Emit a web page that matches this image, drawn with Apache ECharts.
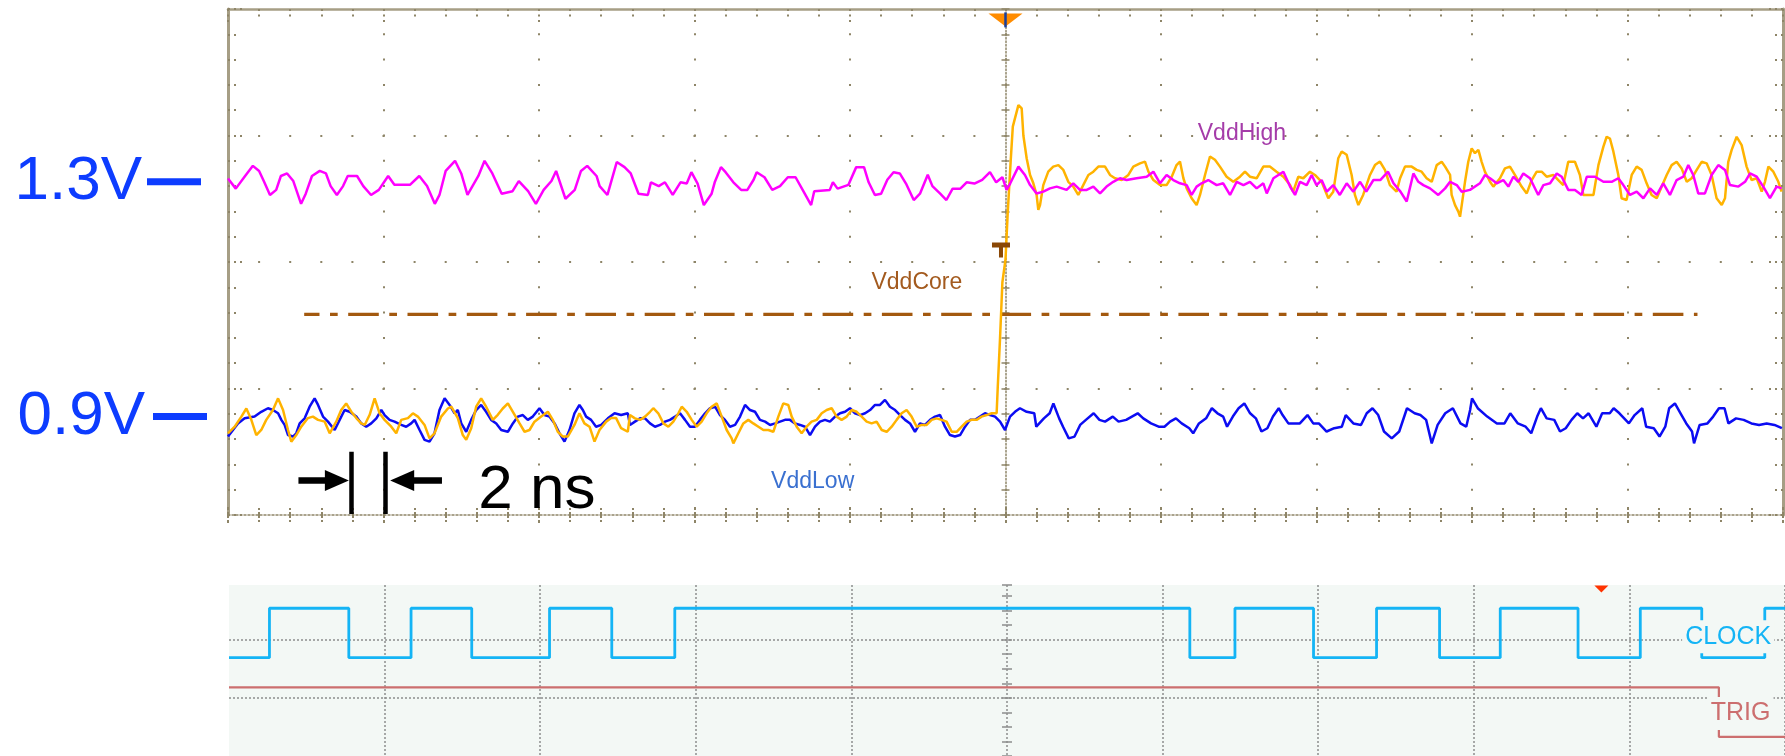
<!DOCTYPE html>
<html>
<head>
<meta charset="utf-8">
<script src="https://cdn.jsdelivr.net/npm/echarts@6/dist/echarts.min.js"></script>
<style>
html,body{margin:0;padding:0;background:#fff;}
#c{width:1785px;height:756px;}
</style>
</head>
<body>
<div id="c"></div>
<script>
// ---------- DATA (time in ns, amplitude in screen minor divisions) ----------
const vddHigh = [
[-50,3.3],[-49.5,2.9],[-48.9,3.4],[-48.4,3.8],[-48,3.6],[-47.7,3.2],[-47.3,2.65],[-46.9,2.85],[-46.6,3.4],[-46.2,3.5],[-45.8,3.2],[-45.3,2.3],[-45,2.7],[-44.6,3.4],[-44.1,3.6],[-43.7,3.5],[-43.4,3.0],[-43,2.65],[-42.6,3.0],[-42.3,3.4],[-41.7,3.4],[-41.3,3.0],[-40.8,2.65],[-40.3,2.85],[-39.7,3.4],[-39.3,3.05],[-38.3,3.05],[-37.7,3.4],[-37.2,3.0],[-36.7,2.3],[-36.4,2.65],[-36,3.6],[-35.4,4.0],[-35,3.5],[-34.6,2.65],[-33.9,3.4],[-33.5,4.0],[-33,3.5],[-32.4,2.7],[-31.7,2.8],[-31.3,3.2],[-30.7,2.8],[-30.2,2.3],[-29.7,2.85],[-29.2,3.2],[-28.9,3.6],[-28.3,2.5],[-27.7,2.85],[-27.3,3.6],[-26.9,3.8],[-26.3,3.4],[-26.1,3.0],
[-25.6,2.65],[-25.0,3.95],[-24.5,3.75],[-24.1,3.5],[-23.6,2.7],[-23.0,2.65],[-22.8,3.15],[-22.3,3.0],[-21.9,3.15],[-21.4,2.65],[-20.9,3.15],[-20.5,3.1],[-20.2,3.55],[-19.8,3.1],[-19.4,2.25],[-18.9,2.7],[-18.7,3.15],[-18.3,3.75],[-18.0,3.55],[-17.5,3.15],[-17.0,2.85],[-16.6,2.85],[-16.2,3.25],[-16.0,3.55],[-15.5,3.35],[-15.0,2.85],[-14.5,3.0],[-14.0,3.35],[-13.5,3.35],[-13.0,2.8],[-12.5,2.25],[-12.3,2.8],[-11.3,2.85],[-11.1,3.15],[-10.8,2.9],[-10.1,3.05],[-9.6,3.75],[-9.1,3.75],[-8.8,3.15],[-8.4,2.65],[-8.0,2.7],[-7.6,3.25],[-7.2,3.55],[-6.8,3.5],[-6.4,3.1],[-5.9,2.45],[-5.5,2.7],[-5.0,3.45],[-4.7,3.0],[-4.2,2.7],[-3.8,2.45],[-3.4,2.9],[-2.9,2.9],[-2.5,3.15],[-2.0,3.1],[-1.5,3.25],[-1.0,3.55],[-0.6,3.15],[-0.2,3.35],
[0.07,2.85],[0.3,3.1],[0.83,3.77],[1.25,3.44],[1.58,3.04],[2.0,2.71],[2.43,2.78],[2.86,2.91],[3.29,2.98],[3.93,2.85],[4.36,3.11],[4.79,2.85],[5.22,2.85],[5.65,2.98],[6.08,2.71],[6.5,2.98],[6.93,3.17],[7.36,3.31],[7.79,3.24],[8.43,3.31],[9.08,3.37],[9.51,3.57],[9.94,3.11],[10.36,3.44],[10.79,3.24],[11.22,3.11],[11.65,3.04],[11.97,2.65],[12.29,2.98],[12.61,3.11],[13.04,3.24],[13.58,3.04],[14.0,3.11],[14.44,2.65],[14.87,3.17],[15.3,3.04],[15.72,3.17],[16.15,2.91],[16.58,3.11],[16.8,2.71],[17.23,3.31],[17.87,3.57],[18.3,2.98],[18.62,2.65],[18.94,3.17],[19.37,3.04],[19.69,3.44],[20.0,3.04],[20.33,3.24],[20.66,2.78],[21.08,3.04],[21.5,2.65],[21.94,3.11],[22.37,2.78],[22.8,3.17],[23.2,2.78],[23.66,3.24],[24.1,3.24],[24.6,3.57],[24.95,3.11],[25.4,2.78],
[25.8,2.39],[26.23,3.5],[26.55,3.17],[26.87,3.04],[27.3,2.91],[27.83,2.65],[28.27,2.91],[28.59,3.17],[29.02,3.04],[29.34,2.78],[29.87,2.85],[30.51,3.11],[30.84,3.44],[31.16,3.31],[31.59,3.11],[32.01,3.24],[32.34,2.98],[32.66,3.37],[32.98,3.17],[33.3,3.5],[33.73,3.31],[34.26,2.65],[34.59,3.04],[35.02,3.11],[35.45,3.5],[35.77,3.37],[36.19,2.85],[36.62,2.85],[37.05,2.65],[37.38,3.37],[37.91,3.37],[38.45,3.17],[38.98,3.17],[39.41,3.31],[39.73,3.04],[40.16,2.65],[40.59,2.78],[41.02,2.52],[41.45,2.91],[41.88,2.65],[42.3,3.11],[42.73,2.65],[43.16,3.24],[43.59,3.37],[43.91,3.83],[44.23,3.44],[44.55,2.71],[44.98,2.71],[45.41,3.44],[45.84,3.83],[46.27,3.64],[46.59,3.04],[47.13,2.98],[47.56,3.17],[47.88,3.5],[48.31,3.37],[48.73,2.98],[49.16,2.52],[49.59,2.98],[49.91,2.91]
];

const vddLow = [
[-50,-6.9],[-49.68,-6.64],[-49.36,-6.38],[-48.93,-6.18],[-48.29,-6.11],[-47.86,-5.92],[-47.43,-5.78],[-47.11,-5.85],[-46.78,-5.98],[-46.57,-6.24],[-46.36,-6.44],[-46.14,-6.84],[-45.82,-6.9],[-45.61,-6.77],[-45.39,-6.38],[-45.07,-6.18],[-44.75,-5.72],[-44.43,-5.39],[-44.21,-5.65],[-43.89,-6.11],[-43.57,-6.31],[-43.14,-6.64],[-42.82,-6.24],[-42.5,-5.85],[-42.18,-5.92],[-41.75,-6.11],[-41.43,-6.38],[-41.11,-6.51],[-40.79,-6.38],[-40.46,-6.18],[-40.14,-5.85],[-39.93,-6.05],[-39.61,-6.24],[-39.29,-6.31],[-38.86,-6.44],[-38.54,-6.51],[-38.22,-6.38],[-38.0,-6.24],[-37.68,-6.64],[-37.36,-7.03],[-37.04,-7.1],[-36.72,-6.77],[-36.4,-5.85],[-36.07,-5.39],[-35.75,-5.65],[-35.43,-5.98],[-35.22,-5.85],[-35.0,-6.38],[-34.68,-6.71],[-34.36,-6.24],[-34.04,-5.85],[-33.72,-5.65],[-33.4,-5.92],[-33.08,-6.24],[-32.75,-6.38],[-32.43,-6.64],[-32.0,-6.71],[-31.68,-6.38],[-31.36,-6.11],[-31.04,-6.05],[-30.72,-6.24],[-30.4,-6.11],[-29.97,-5.78],[-29.65,-6.05],[-29.33,-6.11],[-29.0,-6.38],[-28.68,-6.77],[-28.36,-7.1],[-28.04,-6.64],[-27.72,-5.98],[-27.4,-5.65],[-27.18,-5.85],[-26.97,-6.11],[-26.65,-6.24],[-26.33,-6.51],[-26.0,-6.44],[-25.57,-6.18],[-25.14,-5.98],[-24.72,-6.05],[-24.29,-5.98],
[-24.15,-6.44],[-23.83,-6.31],[-23.5,-6.18],[-23.18,-6.18],[-22.86,-6.38],[-22.54,-6.51],[-22.22,-6.44],[-21.9,-6.31],[-21.58,-6.24],[-21.25,-6.11],[-20.93,-5.98],[-20.61,-6.24],[-20.29,-6.51],[-19.97,-6.51],[-19.65,-6.24],[-19.32,-5.98],[-19.0,-5.78],[-18.68,-5.72],[-18.36,-6.05],[-18.04,-6.24],[-17.72,-6.51],[-17.39,-6.44],[-17.07,-6.11],[-16.75,-5.65],[-16.43,-5.85],[-16.11,-5.92],[-15.79,-6.24],[-15.46,-6.31],[-15.14,-6.44],[-14.82,-6.38],[-14.5,-6.31],[-14.18,-6.24],[-13.86,-6.24],[-13.54,-6.38],[-13.21,-6.44],[-12.89,-6.51],[-12.57,-6.84],[-12.25,-6.51],[-11.93,-6.31],[-11.61,-6.24],[-11.29,-6.31],[-10.96,-6.11],[-10.64,-5.98],[-10.32,-5.92],[-10.0,-5.78],[-9.68,-5.98],[-9.36,-6.05],[-9.03,-5.98],[-8.71,-5.85],[-8.39,-5.65],[-8.07,-5.65],[-7.75,-5.45],[-7.43,-5.72],[-7.1,-5.85],[-6.78,-6.05],[-6.46,-6.24],[-6.14,-6.38],[-5.82,-6.71],[-5.5,-6.38],[-5.18,-6.44],[-4.85,-6.24],[-4.53,-6.11],[-4.21,-6.05],[-3.89,-6.51],[-3.57,-6.84],[-3.25,-6.9],[-2.92,-6.84],[-2.6,-6.51],[-2.28,-6.24],[-1.96,-6.24],[-1.64,-6.11],[-1.32,-5.98],[-0.99,-6.05],[-0.67,-6.11],[-0.35,-6.31],[-0.03,-6.64],[0.29,-6.11],[0.61,-5.92],[0.93,-5.78],
[1.36,-5.92],[1.85,-5.98],[1.98,-6.51],[2.47,-6.18],[2.84,-5.98],[3.08,-5.59],[3.45,-6.18],[3.7,-6.51],[4.07,-6.97],[4.44,-6.9],[4.8,-6.44],[5.17,-6.24],[5.67,-5.98],[6.04,-6.24],[6.4,-6.31],[6.9,-6.11],[7.27,-6.31],[7.76,-6.24],[8.13,-6.11],[8.5,-5.98],[8.86,-6.18],[9.36,-6.38],[9.85,-6.51],[10.22,-6.51],[10.59,-6.31],[10.96,-6.18],[11.33,-6.38],[11.82,-6.57],[12.07,-6.77],[12.44,-6.38],
[12.9,-6.18],[13.27,-5.78],[13.63,-5.98],[14.0,-6.11],[14.25,-6.51],[14.62,-6.11],[14.99,-5.78],[15.36,-5.59],[15.73,-5.98],[16.1,-6.18],[16.46,-6.7],[16.84,-6.57],[17.2,-6.11],[17.57,-5.78],[17.82,-6.05],[18.19,-6.38],[18.93,-6.38],[19.42,-6.05],[19.79,-6.38],[20.15,-6.38],[20.65,-6.7],[21.14,-6.57],[21.63,-6.51],[21.88,-6.05],[22.37,-6.38],[22.86,-6.44],[23.23,-5.98],[23.6,-5.78],[23.97,-6.05],[24.34,-6.7],[24.84,-6.97],[25.32,-6.7],[25.82,-5.78],[26.31,-5.98],[26.68,-6.05],[27.05,-6.24],[27.41,-7.17],[27.79,-6.44],[28.28,-5.98],[28.77,-5.78],[29.26,-6.38],[29.63,-6.51],[29.88,-5.85],[30.0,-5.39],[30.37,-5.78],[30.98,-6.11],[31.6,-6.38],[32.09,-6.38],[32.46,-5.98],[32.95,-6.38],[33.45,-6.51],[33.81,-6.77],[34.19,-6.11],[34.43,-5.78],[34.8,-6.18],[35.29,-6.24],[35.66,-6.7],[36.03,-6.57],[36.4,-6.24],[36.77,-5.98],[37.14,-6.18],[37.5,-5.98],[38.0,-6.51],[38.37,-5.98],[38.86,-5.98],[39.11,-5.78],[39.48,-5.98],[40.09,-6.38],[40.46,-6.05],[40.95,-5.78],[41.2,-6.51],[41.69,-6.57],[42.06,-6.9],[42.43,-6.51],[42.68,-5.78],[43.05,-5.59],[43.41,-5.98],[43.78,-6.38],[44.15,-6.7],[44.28,-7.17],[44.64,-6.44],[45.14,-6.38],[45.51,-6.11],[45.88,-5.78],[46.24,-5.78],[46.49,-6.38],[46.98,-6.18],[47.47,-6.24],[47.97,-6.38],[48.46,-6.44],[48.95,-6.38],[49.45,-6.44],[49.93,-6.57]
];

const vddCore = [
[-50.0,-6.77],[-49.57,-6.51],[-49.14,-6.11],[-48.82,-5.79],[-48.5,-6.24],[-48.18,-6.84],[-47.86,-6.64],[-47.54,-6.24],[-47.11,-5.85],[-46.78,-5.39],[-46.46,-5.85],[-46.14,-6.64],[-45.93,-7.1],[-45.61,-6.84],[-45.29,-6.51],[-44.86,-6.17],[-44.54,-6.11],[-44.21,-6.24],[-43.78,-6.31],[-43.46,-6.77],[-43.04,-6.31],[-42.72,-5.85],[-42.4,-5.59],[-42.07,-5.92],[-41.75,-6.17],[-41.43,-6.38],[-41.21,-6.44],[-40.89,-6.04],[-40.57,-5.39],[-40.25,-5.98],[-39.93,-6.24],[-39.5,-6.51],[-39.18,-6.77],[-38.86,-6.24],[-38.43,-6.17],[-38.11,-5.98],[-37.79,-6.11],[-37.36,-6.44],[-37.04,-6.97],[-36.72,-6.77],[-36.29,-6.11],[-35.86,-5.79],[-35.64,-5.72],[-35.22,-6.17],[-34.9,-6.84],[-34.68,-7.03],[-34.36,-6.57],[-34.04,-5.72],[-33.72,-5.39],[-33.4,-5.72],[-32.97,-6.24],[-32.65,-6.04],[-32.33,-5.79],[-32.0,-5.59],[-31.68,-5.92],[-31.25,-6.38],[-30.93,-6.71],[-30.61,-6.64],[-30.29,-6.31],[-29.86,-6.11],[-29.43,-5.92],[-29.11,-6.24],[-28.79,-6.71],[-28.47,-6.9],[-28.15,-6.9],[-27.72,-6.44],[-27.4,-5.98],[-27.08,-6.38],[-26.75,-6.51],[-26.43,-7.1],[-26.11,-6.64],[-25.68,-6.31],[-25.36,-6.17],[-25.04,-6.17],[-24.72,-6.57],[-24.29,-6.71],
[-24.15,-6.05],[-23.83,-6.18],[-23.5,-6.24],[-23.18,-6.11],[-22.86,-5.92],[-22.65,-5.78],[-22.33,-5.98],[-22.0,-6.38],[-21.68,-6.51],[-21.36,-6.31],[-21.04,-5.98],[-20.82,-5.72],[-20.5,-5.92],[-20.18,-6.24],[-19.86,-6.51],[-19.54,-6.31],[-19.22,-5.98],[-18.9,-5.72],[-18.57,-5.59],[-18.25,-6.11],[-17.93,-6.64],[-17.61,-6.97],[-17.5,-7.17],[-17.18,-6.77],[-16.86,-6.38],[-16.54,-6.24],[-16.22,-6.38],[-15.89,-6.51],[-15.57,-6.64],[-15.25,-6.64],[-14.93,-6.71],[-14.61,-6.11],[-14.29,-5.59],[-13.97,-5.65],[-13.75,-6.11],[-13.43,-6.51],[-13.11,-6.77],[-12.79,-6.51],[-12.47,-6.31],[-12.14,-6.24],[-11.82,-5.98],[-11.5,-5.85],[-11.18,-5.78],[-10.86,-6.11],[-10.54,-6.24],[-10.21,-6.11],[-9.89,-5.85],[-9.57,-5.92],[-9.25,-6.11],[-8.93,-6.31],[-8.61,-6.38],[-8.29,-6.31],[-7.96,-6.64],[-7.64,-6.71],[-7.32,-6.51],[-7.0,-6.24],[-6.68,-5.98],[-6.36,-5.85],[-6.04,-6.11],[-5.71,-6.51],[-5.39,-6.44],[-5.07,-6.44],[-4.75,-6.24],[-4.43,-6.18],[-4.11,-6.24],[-3.79,-6.31],[-3.46,-6.71],[-3.14,-6.71],[-2.82,-6.51],[-2.5,-6.31],[-2.18,-6.24],[-1.86,-6.24],[-1.54,-6.11],[-1.21,-6.05],[-0.89,-5.98],[-0.57,-5.98],
[-0.5,-4.97],[-0.35,-3.0],[-0.2,-0.8],[0.0,0.1],[0.14,1.9],[0.33,3.96],[0.47,5.35],[0.83,6.2],[1.04,6.07],[1.15,5.0],[1.36,4.1],[1.58,3.44],[1.79,3.11],[2.0,2.65],[2.11,2.06],[2.22,2.25],
[2.43,3.04],[2.75,3.57],[3.07,3.77],[3.4,3.83],[3.72,3.64],[4.04,3.17],[4.36,2.98],[4.68,2.65],[5.0,3.04],[5.33,3.44],[5.65,3.57],[5.97,3.77],[6.4,3.77],[6.72,3.44],[7.04,3.31],[7.47,3.24],[7.9,3.44],[8.22,3.77],[8.65,3.9],[8.97,3.97],[9.19,3.57],[9.51,3.24],[9.94,3.04],[10.36,3.04],[10.69,3.37],[11.0,3.83],[11.22,3.97],[11.44,3.31],[11.65,2.91],[11.97,2.52],[12.29,2.25],[12.51,2.65],[12.83,3.44],[13.15,4.17],[13.47,4.04],[13.79,3.77],[14.22,3.37],[14.65,3.17],[15.08,3.37],[15.4,3.57],[15.72,3.37],[16.15,3.31],[16.58,3.77],[17.0,3.77],[17.43,3.57],[17.87,3.37],[18.3,3.04],[18.5,2.78],[18.83,3.37],[19.15,3.31],[19.58,3.57],[19.9,3.44],[20.33,3.17],[20.76,2.52],[21.08,2.78],[21.4,4.1],[21.62,4.37],[21.94,4.24],[22.26,3.44],[22.47,2.65],[22.69,2.25],[23.0,2.65],[23.44,3.44],[23.76,3.83],[24.08,3.97],[24.4,3.64],[24.72,3.04],[25.15,2.78],[25.37,3.3],
[25.69,3.77],[26.12,3.77],[26.44,3.64],[26.76,3.57],[27.08,3.31],[27.41,3.17],[27.73,3.83],[28.05,3.96],[28.27,3.77],[28.59,3.44],[28.69,2.65],[28.91,2.25],[29.12,1.99],[29.23,1.79],[29.34,2.25],[29.55,3.17],[29.76,3.96],[29.98,4.49],[30.19,4.3],[30.41,4.43],[30.62,3.96],[30.83,3.57],[31.16,3.17],[31.37,2.98],[31.8,3.31],[32.12,3.7],[32.44,3.77],[32.76,3.44],[33.19,2.98],[33.52,2.71],[33.84,3.24],[34.16,3.57],[34.48,3.57],[34.8,3.37],[35.23,3.44],[35.55,3.24],[35.87,3.04],[36.19,3.96],[36.62,3.96],[36.94,3.44],[37.16,2.65],[37.48,2.65],[37.81,2.65],[38.13,3.83],[38.45,4.56],[38.66,4.95],[38.87,4.88],[39.09,4.37],[39.41,3.44],[39.62,2.52],[39.94,2.45],[40.27,3.44],[40.59,3.77],[40.91,3.64],[41.23,3.11],[41.55,2.65],[41.88,2.52],[42.2,2.98],[42.52,3.44],[42.84,3.83],[43.16,3.96],[43.48,3.7],[43.81,3.17],[44.13,3.31],[44.45,3.64],[44.77,3.96],[45.09,3.9],[45.41,3.44],[45.73,2.52],[46.06,2.25],[46.27,2.52],[46.48,3.96],[46.7,4.43],[47.02,4.95],[47.34,4.62],[47.66,3.77],[47.98,3.24],[48.31,3.31],[48.63,2.78],[48.84,3.17],[49.06,3.77],[49.38,3.57],[49.7,3.17],[49.91,2.78]
];

// VddCore reference (dash-dot) line
const coreRefLevel = -2.07;
const coreRefSpan = [-45.1, 44.5];

// level annotations on the left
const level13 = 3.17;   // "1.3V"
const level09 = -6.11;  // "0.9V"

// trace name labels [ns, div]
const traceLabels = [
  {name: 'VddHigh', pos: [15.2, 5.08], color: '#a53ca9'},
  {name: 'VddCore', pos: [-5.7, -0.8], color: '#a35a1e'},
  {name: 'VddLow',  pos: [-12.4, -8.7], color: '#3a70d0'}
];

// "2 ns" scale annotation
const spanBars = [-42.06, -39.9];
const spanBarRange = [-7.5, -9.96];
const arrowLevel = -8.64;
const arrowRight = [-45.47, -43.0];   // tail -> head centre
const arrowLeft  = [-36.24, -38.8];
const spanText = {text: '2 ns', pos: [-33.9, -9.05]};

// trigger markers
const trigTopMarker = [0, 9.57];
const trigLevelMarker = [-0.29, 0.47];

// lower panel (logic) : time in ns, level in panel units
const clockEdges = [-47.4, -42.3, -38.3, -34.4, -29.4, -25.4, -21.35, 11.75, 14.65, 19.7, 23.75, 27.8, 31.7, 36.7, 40.7, 44.65, 48.7];
const clockHigh = 0.54, clockLow = -0.31;
const trigEdge = 45.75;
const trigHigh = -0.82, trigLow = -1.67;
const clockLabelPos = [46.35, 0.05];
const trigLabelPos = [47.15, -1.27];
const lowerMarker = [38.2, 0.87];

// ---------- BUILD ----------
const clockData = [[-50, clockLow]];
clockEdges.forEach((t, i) => clockData.push([t, i % 2 === 0 ? clockHigh : clockLow]));
clockData.push([50, clockData[clockData.length - 1][1]]);
const trigData = [[-50, trigHigh], [trigEdge, trigLow], [50, trigLow]];

const GRID = '#8e8568';
const BORDER = '#a69e85';
const PANEL_BG = '#f3f8f5';
const FONT = '"Liberation Sans", Arial, sans-serif';

const chart = echarts.init(document.getElementById('c'), null, {renderer: 'canvas'});

const hide = {show: false};
const option = {
  animation: false,
  backgroundColor: '#ffffff',
  grid: [
    {left: 228, top: 9, width: 1555, height: 506, show: false},
    {left: 229, top: 585, width: 1556, height: 182.3, show: true, backgroundColor: PANEL_BG, borderWidth: 0}
  ],
  xAxis: [
    { // 0: scope centre horizontal axis (bottom edge of upper panel)
      gridIndex: 0, type: 'value', min: -50, max: 50, interval: 10, position: 'bottom',
      axisLine: {show: true, onZero: false, lineStyle: {color: GRID, width: 1.5, type: [2, 2]}},
      axisTick: {show: true, inside: true, length: 10, lineStyle: {color: GRID, width: 2, type: [3, 2]}},
      minorTick: {show: true, splitNumber: 5, length: 7, lineStyle: {color: GRID, width: 2, type: [3, 2]}},
      axisLabel: hide,
      splitLine: {show: true, showMinLine: false, showMaxLine: false, lineStyle: {color: GRID, width: 2, type: [2, 23.3], dashOffset: 1}}
    },
    { // 1: top border
      gridIndex: 0, type: 'value', min: -50, max: 50, interval: 10, position: 'top',
      axisLine: {show: true, onZero: false, lineStyle: {color: BORDER, width: 2.5}},
      axisTick: {show: true, inside: true, length: 14, lineStyle: {color: GRID, width: 2, type: [2, 3.5]}},
      minorTick: {show: true, splitNumber: 5, length: 10, lineStyle: {color: GRID, width: 2, type: [2, 3.5]}},
      axisLabel: hide, splitLine: hide
    },
    { // 2: outside ticks of the centre horizontal axis
      gridIndex: 0, type: 'value', min: -50, max: 50, interval: 10, position: 'bottom',
      axisLine: {show: false, onZero: false},
      axisTick: {show: true, inside: false, length: 9, lineStyle: {color: GRID, width: 2, type: [3, 2]}},
      minorTick: {show: true, splitNumber: 5, length: 7, lineStyle: {color: GRID, width: 2, type: [3, 2]}},
      axisLabel: hide, splitLine: hide
    },
    { // 3: lower panel
      gridIndex: 1, type: 'value', min: -50, max: 50, interval: 10, position: 'bottom',
      axisLine: {show: false, onZero: false}, axisTick: hide, axisLabel: hide,
      splitLine: {show: true, showMinLine: false, showMaxLine: true, lineStyle: {color: '#8d8d8d', width: 1.5, type: [2, 2]}}
    }
  ],
  yAxis: [
    { // 0: left border
      gridIndex: 0, type: 'value', min: -10, max: 10, interval: 5, position: 'left',
      axisLine: {show: true, onZero: false, lineStyle: {color: BORDER, width: 3}},
      axisTick: {show: true, inside: true, length: 14, lineStyle: {color: GRID, width: 2, type: [2, 4]}},
      minorTick: {show: true, splitNumber: 5, length: 10, lineStyle: {color: GRID, width: 2, type: [2, 4]}},
      axisLabel: hide,
      splitLine: {show: true, showMinLine: false, showMaxLine: false, lineStyle: {color: GRID, width: 2, type: [2, 29.1], dashOffset: 1}}
    },
    { // 1: right border
      gridIndex: 0, type: 'value', min: -10, max: 10, interval: 5, position: 'right',
      axisLine: {show: true, onZero: false, lineStyle: {color: BORDER, width: 3}},
      axisTick: {show: true, inside: true, length: 14, lineStyle: {color: GRID, width: 2, type: [2, 4]}},
      minorTick: {show: true, splitNumber: 5, length: 10, lineStyle: {color: GRID, width: 2, type: [2, 4]}},
      axisLabel: hide, splitLine: hide
    },
    { // 2: centre vertical axis, ticks right
      gridIndex: 0, type: 'value', min: -10, max: 10, interval: 1, position: 'left',
      axisLine: {show: true, onZero: true, onZeroAxisIndex: 0, lineStyle: {color: GRID, width: 1.5, type: [1.5, 2]}},
      axisTick: {show: true, inside: true, length: 4, lineStyle: {color: GRID, width: 1.5}},
      axisLabel: hide, splitLine: hide
    },
    { // 3: centre vertical axis, ticks left
      gridIndex: 0, type: 'value', min: -10, max: 10, interval: 1, position: 'left',
      axisLine: {show: false, onZero: true, onZeroAxisIndex: 0},
      axisTick: {show: true, inside: false, length: 4, lineStyle: {color: GRID, width: 1.5}},
      axisLabel: hide, splitLine: hide
    },
    { // 4: lower panel
      gridIndex: 1, type: 'value', min: -2, max: 0.94, interval: 1, position: 'left',
      axisLine: {show: false, onZero: false}, axisTick: hide, axisLabel: hide,
      splitLine: {show: true, showMinLine: false, showMaxLine: false, lineStyle: {color: '#8d8d8d', width: 1.5, type: [2, 2]}}
    },
    { // 5: lower centre axis, ticks right
      gridIndex: 1, type: 'value', min: -2, max: 0.94, interval: 0.25, position: 'left',
      axisLine: {show: false, onZero: true, onZeroAxisIndex: 3},
      axisTick: {show: true, inside: true, length: 5, lineStyle: {color: '#8d8d8d', width: 1.5}},
      axisLabel: hide, splitLine: hide
    },
    { // 6: lower centre axis, ticks left
      gridIndex: 1, type: 'value', min: -2, max: 0.94, interval: 0.25, position: 'left',
      axisLine: {show: false, onZero: true, onZeroAxisIndex: 3},
      axisTick: {show: true, inside: false, length: 5, lineStyle: {color: '#8d8d8d', width: 1.5}},
      axisLabel: hide, splitLine: hide
    }
  ],
  series: [
    {
      name: 'VddCoreRef', type: 'line', xAxisIndex: 0, yAxisIndex: 0, z: 2,
      data: [[coreRefSpan[0], coreRefLevel], [coreRefSpan[1], coreRefLevel]],
      showSymbol: false, silent: true,
      lineStyle: {color: '#a3590f', width: 3.2, type: [30.6, 10.5, 7.7, 10.5], dashOffset: 15.3}
    },
    {
      name: 'VddLow', type: 'line', xAxisIndex: 0, yAxisIndex: 0, z: 3,
      data: vddLow, showSymbol: false, silent: true,
      lineStyle: {color: '#0c0cf2', width: 2.5}
    },
    {
      name: 'VddCore', type: 'line', xAxisIndex: 0, yAxisIndex: 0, z: 4,
      data: vddCore, showSymbol: false, silent: true,
      lineStyle: {color: '#ffb300', width: 2.5}
    },
    {
      name: 'VddHigh', type: 'line', xAxisIndex: 0, yAxisIndex: 0, z: 5,
      data: vddHigh, showSymbol: false, silent: true,
      lineStyle: {color: '#ff00ff', width: 2.5}
    },
    {
      name: 'labels', type: 'scatter', xAxisIndex: 0, yAxisIndex: 0, z: 6, silent: true,
      symbolSize: 0, itemStyle: {opacity: 1},
      data: traceLabels.map(l => ({
        value: l.pos,
        label: {show: true, position: 'inside', formatter: l.name, color: l.color, fontSize: 23, fontFamily: FONT}
      })).concat([{
        value: spanText.pos,
        label: {show: true, position: 'right', distance: 0, formatter: spanText.text, color: '#000000', fontSize: 62, fontFamily: FONT}
      }]),
      markLine: {
        silent: true, animation: false, symbol: 'none',
        label: {show: false},
        lineStyle: {color: '#000', type: 'solid', width: 4.5, opacity: 1},
        data: [
          [{coord: [spanBars[0], spanBarRange[0]], symbol: 'none'}, {coord: [spanBars[0], spanBarRange[1]], symbol: 'none'}],
          [{coord: [spanBars[1], spanBarRange[0]], symbol: 'none'}, {coord: [spanBars[1], spanBarRange[1]], symbol: 'none'}],
          [{coord: [arrowRight[0], arrowLevel], symbol: 'none', lineStyle: {width: 6.5}}, {coord: [arrowRight[1], arrowLevel], symbol: 'triangle', symbolSize: [21, 24]}],
          [{coord: [arrowLeft[0], arrowLevel], symbol: 'none', lineStyle: {width: 6.5}}, {coord: [arrowLeft[1], arrowLevel], symbol: 'triangle', symbolSize: [21, 24]}]
        ]
      }
    },
    {
      name: 'markers', type: 'scatter', xAxisIndex: 0, yAxisIndex: 0, z: 7, silent: true,
      itemStyle: {opacity: 1},
      data: [
        {value: trigTopMarker, symbol: 'path://M0,0L34,0L17,13Z', symbolSize: [34, 13], itemStyle: {color: '#ff8c00', opacity: 1}},
        {value: trigTopMarker, symbol: 'rect', symbolSize: [2.5, 15], itemStyle: {color: '#1a3f9a', opacity: 1}},
        {value: trigLevelMarker, symbol: 'path://M0,0H18V5H11V15H7V5H0Z', symbolSize: [18, 15], itemStyle: {color: '#8a4806', opacity: 1}}
      ]
    },
    {
      name: 'CLOCK', type: 'line', xAxisIndex: 3, yAxisIndex: 4, z: 3,
      data: clockData, step: 'end', showSymbol: false, silent: true,
      lineStyle: {color: '#14b4f5', width: 2.8}
    },
    {
      name: 'TRIG', type: 'line', xAxisIndex: 3, yAxisIndex: 4, z: 3,
      data: trigData, step: 'end', showSymbol: false, silent: true,
      lineStyle: {color: '#cc6f6f', width: 2.2}
    },
    {
      name: 'lowerLabels', type: 'scatter', xAxisIndex: 3, yAxisIndex: 4, z: 8, silent: true,
      symbolSize: 0, itemStyle: {opacity: 1},
      data: [
        {value: clockLabelPos, label: {show: true, position: 'inside', formatter: 'CLOCK', color: '#14b4f5', fontSize: 25, fontFamily: FONT, backgroundColor: PANEL_BG, padding: [4, 3]}},
        {value: trigLabelPos, label: {show: true, position: 'inside', formatter: 'TRIG', color: '#cc6f6f', fontSize: 25, fontFamily: FONT, backgroundColor: PANEL_BG, padding: [4, 3]}},
        {value: lowerMarker, symbol: 'path://M0,0L14,0L7,7Z', symbolSize: [14, 7], itemStyle: {color: '#ff3300', opacity: 1}}
      ]
    }
  ]
};
chart.setOption(option);

// Level annotations to the left of the plot, positioned through the y scale
const gridLeft = 228;
const yOf = d => chart.convertToPixel({xAxisIndex: 0, yAxisIndex: 0}, [0, d])[1];
const y13 = yOf(level13), y09 = yOf(level09);
const BLUE = '#0d3cff';
chart.setOption({
  graphic: [
    {type: 'text', x: gridLeft - 86, y: y13, style: {text: '1.3V', fontSize: 62, fontFamily: FONT, fill: BLUE, align: 'right', verticalAlign: 'middle'}},
    {type: 'rect', shape: {x: gridLeft - 81, y: y13 - 3.5, width: 54, height: 7}, style: {fill: BLUE}},
    {type: 'text', x: gridLeft - 83, y: y09, style: {text: '0.9V', fontSize: 62, fontFamily: FONT, fill: BLUE, align: 'right', verticalAlign: 'middle'}},
    {type: 'rect', shape: {x: gridLeft - 75, y: y09 - 3.5, width: 54, height: 7}, style: {fill: BLUE}}
  ]
});
</script>
</body>
</html>
